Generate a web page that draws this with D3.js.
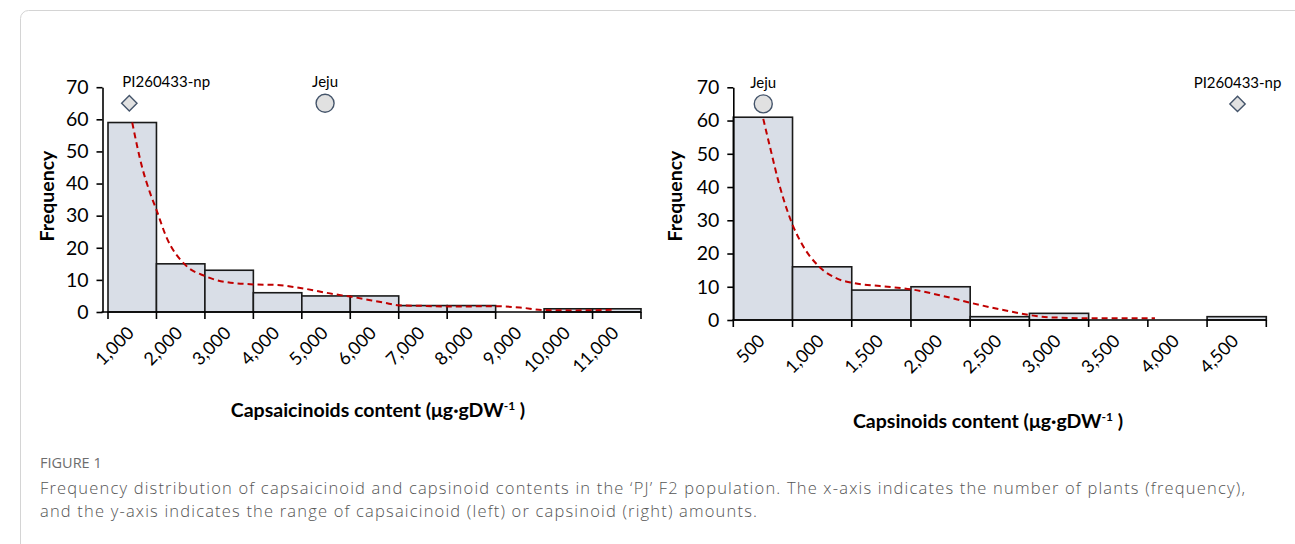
<!DOCTYPE html>
<meta charset="utf-8">
<script src="https://d3js.org/d3.v7.min.js"></script>
<style>
  body { margin: 0; background: #fff; }
  svg { display: block; }
</style>
<div id="figure"></div>
<script>
// ---- data ----
// left panel: capsaicinoids
const leftLabels  = ["1,000","2,000","3,000","4,000","5,000","6,000","7,000","8,000","9,000","10,000","11,000"];
const leftCenters = [1000,2000,3000,4000,5000,6000,7000,8000,9000,10000,11000];
const leftCounts  = [59,15,13,6,5,5,2,2,0,1,1];
const leftCurveX  = [1000,1200,1370,1500,1700,2100,2500,2900,3500,4000,4500,5150,5500,6200,6500,7000,7500,8500,9000,9500,10100,10900];
const leftCurveY  = [59,45.3,37,31.8,23.5,14.6,11.2,9.4,8.6,8.4,7.4,5.6,4.8,2.9,2.1,1.9,1.7,1.8,1.4,0.6,0.5,0.7];
const leftMarkNames = ["PI260433-np","Jeju"];
const leftMarkX     = [940, 4980];
const leftMarkY     = [65, 65];

// right panel: capsinoids
const rightLabels  = ["500","1,000","1,500","2,000","2,500","3,000","3,500","4,000","4,500"];
const rightCenters = [500,1000,1500,2000,2500,3000,3500,4000,4500];
const rightCounts  = [61,16,9,10,1,2,0,0,1];
const rightCurveX  = [503,560,644,752,827,976,1123,1255,1489,1756,2023,2249,2530,2749,2924,3346,3810];
const rightCurveY  = [60.5,52,40,28.5,23,16,12.5,11.2,10.2,9.2,7.2,5.2,3.0,1.5,0.8,0.5,0.5];
const rightMarkNames = ["Jeju","PI260433-np"];
const rightMarkX     = [503, 4507];
const rightMarkY     = [65, 65];

const yTicks = [0,10,20,30,40,50,60,70];

const W = 1295, H = 544;
const svg = d3.select("#figure").append("svg")
  .attr("width", W).attr("height", H);

// figure frame (rounded corner top-left)
svg.append("rect")
  .attr("x", 20.5).attr("y", 10.5)
  .attr("width", W + 20).attr("height", H + 20)
  .attr("rx", 8)
  .attr("fill", "none")
  .attr("stroke", "#d4d4d4");

const chartFont = "Lato, 'Open Sans', sans-serif";

function drawPanel(o) {
  const x = d3.scaleLinear().domain(o.domain).range(o.xRange);
  const y = d3.scaleLinear().domain([0, 70]).range(o.yRange);
  const g = svg.append("g");
  const base = y(0);

  // bars
  g.selectAll("rect.bar")
    .data(o.centers)
    .join("rect")
      .attr("class", "bar")
      .attr("x", d => x(d - o.binW / 2))
      .attr("width", d => x(d + o.binW / 2) - x(d - o.binW / 2))
      .attr("y", (d, i) => y(o.counts[i]))
      .attr("height", (d, i) => base - y(o.counts[i]))
      .attr("fill", "#d9dee7")
      .attr("stroke", "#1a1a1a")
      .attr("stroke-width", 1.6);

  // fitted curve
  const line = d3.line()
    .x(d => x(d[0]))
    .y(d => y(d[1]))
    .curve(d3.curveMonotoneX);
  g.append("path")
    .datum(d3.zip(o.curveX, o.curveY))
    .attr("d", line)
    .attr("fill", "none")
    .attr("stroke", "#c00000")
    .attr("stroke-width", 2)
    .attr("stroke-dasharray", "6,4");

  // y axis
  const yAxis = g.append("g")
    .attr("transform", "translate(" + o.yAxisX + ",0)")
    .call(d3.axisLeft(y).tickValues(yTicks).tickSize(6).tickPadding(8).tickSizeOuter(0));
  yAxis.selectAll("text").style("font-family", chartFont).style("font-size", "19.5px").attr("fill", "#000");
  yAxis.select(".domain").attr("stroke-width", 1.6);
  yAxis.selectAll(".tick line").attr("stroke-width", 1.6);

  // x axis
  const edges = o.centers.map(c => c - o.binW / 2).concat([o.centers[o.centers.length - 1] + o.binW / 2]);
  g.append("line")
    .attr("x1", o.yAxisX - 1).attr("x2", x(o.domain[1]))
    .attr("y1", base).attr("y2", base)
    .attr("stroke", "#000").attr("stroke-width", 1.6);
  g.selectAll("line.xtick")
    .data(edges)
    .join("line")
      .attr("class", "xtick")
      .attr("x1", d => x(d)).attr("x2", d => x(d))
      .attr("y1", base).attr("y2", base + 7)
      .attr("stroke", "#000").attr("stroke-width", 1.6);

  // rotated category labels
  g.selectAll("text.xlab")
    .data(o.labels)
    .join("text")
      .attr("class", "xlab")
      .attr("text-anchor", "end")
      .attr("transform", (d, i) => "translate(" + (x(o.centers[i]) + 3) + "," + (base + 22) + ") rotate(-45)")
      .style("font-family", chartFont)
      .style("font-size", "18px")
      .text(d => d);

  // axis titles
  g.append("text")
    .attr("transform", "translate(" + o.yTitleX + "," + o.yTitleY + ") rotate(-90)")
    .attr("text-anchor", "middle")
    .style("font-family", chartFont)
    .style("font-weight", "bold")
    .style("font-size", "19.5px")
    .text("Frequency");

  const t = g.append("text")
    .attr("x", o.xTitleX).attr("y", o.xTitleY)
    .attr("text-anchor", "middle")
    .style("font-family", chartFont)
    .style("font-weight", "bold")
    .style("font-size", "19.5px");
  t.append("tspan").text(o.xTitle + " (μg·gDW");
  t.append("tspan").attr("dy", -7).style("font-size", "12px").text("-1");
  t.append("tspan").attr("dy", 7).text(" )");

  // parent markers
  o.markNames.forEach((name, i) => {
    const mx = x(o.markX[i]), my = y(o.markY[i]);
    if (name === "Jeju") {
      g.append("circle")
        .attr("cx", mx).attr("cy", my).attr("r", 9)
        .attr("fill", "#e1e1e1").attr("stroke", "#44546a").attr("stroke-width", 1.4);
    } else {
      g.append("path")
        .attr("d", d3.symbol().type(d3.symbolDiamond2).size(150)())
        .attr("transform", "translate(" + mx + "," + my + ")")
        .attr("fill", "#e1e1e1").attr("stroke", "#44546a").attr("stroke-width", 1.4);
    }
    const anchor = o.labelAnchor[i];
    g.append("text")
      .attr("x", anchor === "start" ? mx - 7 : mx)
      .attr("y", my - 16)
      .attr("text-anchor", anchor)
      .style("font-family", chartFont)
      .style("font-size", "15px")
      .text(name);
  });
}

drawPanel({
  labels: leftLabels, centers: leftCenters, counts: leftCounts, binW: 1000,
  curveX: leftCurveX, curveY: leftCurveY,
  markNames: leftMarkNames, markX: leftMarkX, markY: leftMarkY, labelAnchor: ["start", "middle"],
  domain: [500, 11500], xRange: [108, 641], yRange: [312, 87.2], yAxisX: 102.5,
  yTitleX: 54, yTitleY: 196, xTitleX: 378, xTitleY: 417,
  xTitle: "Capsaicinoids content"
});

drawPanel({
  labels: rightLabels, centers: rightCenters, counts: rightCounts, binW: 500,
  curveX: rightCurveX, curveY: rightCurveY,
  markNames: rightMarkNames, markX: rightMarkX, markY: rightMarkY, labelAnchor: ["middle", "middle"],
  domain: [250, 4750], xRange: [733.3, 1266.3], yRange: [320, 87.3], yAxisX: 733.3,
  yTitleX: 682, yTitleY: 196, xTitleX: 988, xTitleY: 428,
  xTitle: "Capsinoids content"
});

// caption
svg.append("text")
  .attr("x", 40).attr("y", 468)
  .style("font-family", "'Open Sans', sans-serif")
  .style("font-size", "14.5px")
  .attr("fill", "#6d6d6d")
  .text("FIGURE 1");

const captionLines = [
  "Frequency distribution of capsaicinoid and capsinoid contents in the ‘PJ’ F2 population. The x-axis indicates the number of plants (frequency),",
  "and the y-axis indicates the range of capsaicinoid (left) or capsinoid (right) amounts."
];
const cap = svg.selectAll("text.cap")
  .data(captionLines)
  .join("text")
    .attr("class", "cap")
    .attr("x", 40)
    .attr("y", (d, i) => 494 + i * 23)
    .style("font-family", "'Open Sans', sans-serif")
    .style("font-size", "16.5px")
    .style("font-weight", 300)
    .attr("fill", "#555")
    .text(d => d);

// loosen the caption letter spacing so the first line spans the same width as in the figure
const firstText = captionLines[0];
const firstLen = cap.node().getComputedTextLength();
const spacing = (1205 - firstLen) / (firstText.length - 1);
cap.style("letter-spacing", spacing.toFixed(3) + "px");
</script>
